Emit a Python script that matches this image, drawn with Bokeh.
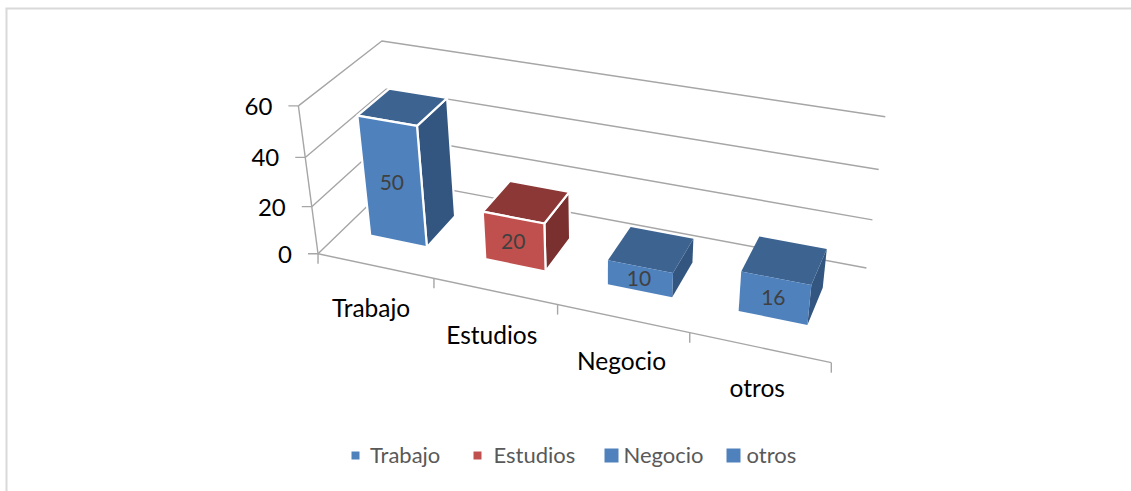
import numpy as np
from bokeh.plotting import figure
from bokeh.models import Range1d
from bokeh.core.properties import value
from bokeh.embed import file_html
from bokeh.resources import INLINE

# ---- data ----
categories = ["Trabajo", "Estudios", "Negocio", "otros"]
values = [50, 20, 10, 16]
value_ticks = [0, 20, 40, 60]
value_labels = ["0", "20", "40", "60"]
front_colors = ["#4F81BD", "#C0504D", "#4F81BD", "#4F81BD"]
top_colors = ["#3D6390", "#8C3836", "#3D6390", "#3D6390"]
side_colors = ["#335680", "#7A302E", "#335680", "#335680"]
edge_colors = ["white", "white", None, None]

# ---- style / layout ----
W, H = 1131, 491
GRID = "#A6A6A6"
FONT = "Lato"
# camera matrix mapping (category position, depth, value) to page pixels
CAMERA = np.array([
    [102.407598, 115.283795, -0.648248, 317.523043],
    [15.935458, -56.747734, -2.577583, 253.25333],
    [-0.031192, 0.097627, -0.001078, 1.0],
])
GAP, DEPTH = 0.25, 0.30
label_dx = [-4, -3, -1, -2]
label_dy = [42, 43, 42, 40]


def pr(u, v, h):
    q = CAMERA @ np.array([u, v, h, 1.0])
    return q[0] / q[2], q[1] / q[2]


p = figure(width=W, height=H, x_range=Range1d(0, W), y_range=Range1d(H, 0),
           output_backend="svg", toolbar_location=None, min_border=0,
           outline_line_color=None, margin=0)
p.axis.visible = False
p.grid.visible = False
p.background_fill_color = "white"
p.border_fill_color = "white"

# chart frame (top and left only)
p.line([5, 1131], [8, 8], line_color="#D9D9D9", line_width=2)
p.line([6, 6], [8, 491], line_color="#D9D9D9", line_width=2)

# walls
for t in value_ticks:
    pts = [pr(0, 0, t), pr(0, 1, t), pr(4, 1, t)]
    p.line([a[0] for a in pts], [a[1] for a in pts], line_color=GRID, line_width=1.4)
a, b = pr(0, 0, 0), pr(0, 0, value_ticks[-1])
p.line([a[0], b[0]], [a[1], b[1]], line_color=GRID, line_width=1.4)
a, b = pr(0, 0, 0), pr(4, 0, 0)
p.line([a[0], b[0]], [a[1], b[1]], line_color=GRID, line_width=1.4)

# ticks
for t, lab in zip(value_ticks, value_labels):
    x, y = pr(0, 0, t)
    p.line([x - 10, x], [y, y], line_color=GRID, line_width=1.4)
    p.text([x - 26], [y + 0.5], text=[lab], text_font=value(FONT), text_font_size="24px",
           text_align="right", text_baseline="middle", text_color="black")
for i in range(len(categories) + 1):
    x, y = pr(i, 0, 0)
    p.line([x, x], [y, y + 10], line_color=GRID, line_width=1.4)
for i, c in enumerate(categories):
    x, y = pr(i + 0.5, 0, 0)
    p.text([x + label_dx[i]], [y + label_dy[i]], text=[c], text_font=value(FONT),
           text_font_size="24.5px", text_align="center", text_baseline="middle",
           text_color="black")


# bars
def face(corners, fill, edge):
    xs = [c[0] for c in corners]
    ys = [c[1] for c in corners]
    p.patch(xs, ys, fill_color=fill, line_color=edge, line_width=2.2 if edge else 0,
            line_join="round")


for i, val in enumerate(values):
    u0, u1 = i + GAP, i + 1 - GAP
    v0, v1 = DEPTH, 1 - DEPTH
    e = edge_colors[i]
    face([pr(u1, v0, 0), pr(u1, v1, 0), pr(u1, v1, val), pr(u1, v0, val)], side_colors[i], e)
    face([pr(u0, v0, val), pr(u1, v0, val), pr(u1, v1, val), pr(u0, v1, val)], top_colors[i], e)
    face([pr(u0, v0, 0), pr(u1, v0, 0), pr(u1, v0, val), pr(u0, v0, val)], front_colors[i], e)
    x, y = pr(i + 0.5, DEPTH, val / 2)
    p.text([x - 1], [y - 0.5], text=[str(val)], text_font=value(FONT), text_font_size="21px",
           text_align="center", text_baseline="middle", text_color="#404040")

# legend
legend_marker_x = [355, 477, 611, 733]
legend_marker_size = [8, 8, 14, 14]
legend_text_x = [369.5, 493, 623, 746]
for i, c in enumerate(categories):
    s = legend_marker_size[i]
    p.rect([legend_marker_x[i]], [455], width=s, height=s, fill_color=front_colors[i], line_color=None)
    p.text([legend_text_x[i]], [454], text=[c], text_font=value(FONT), text_font_size="22px",
           text_align="left", text_baseline="middle", text_color="#595959")

open("out.html", "w").write(file_html(p, INLINE))
